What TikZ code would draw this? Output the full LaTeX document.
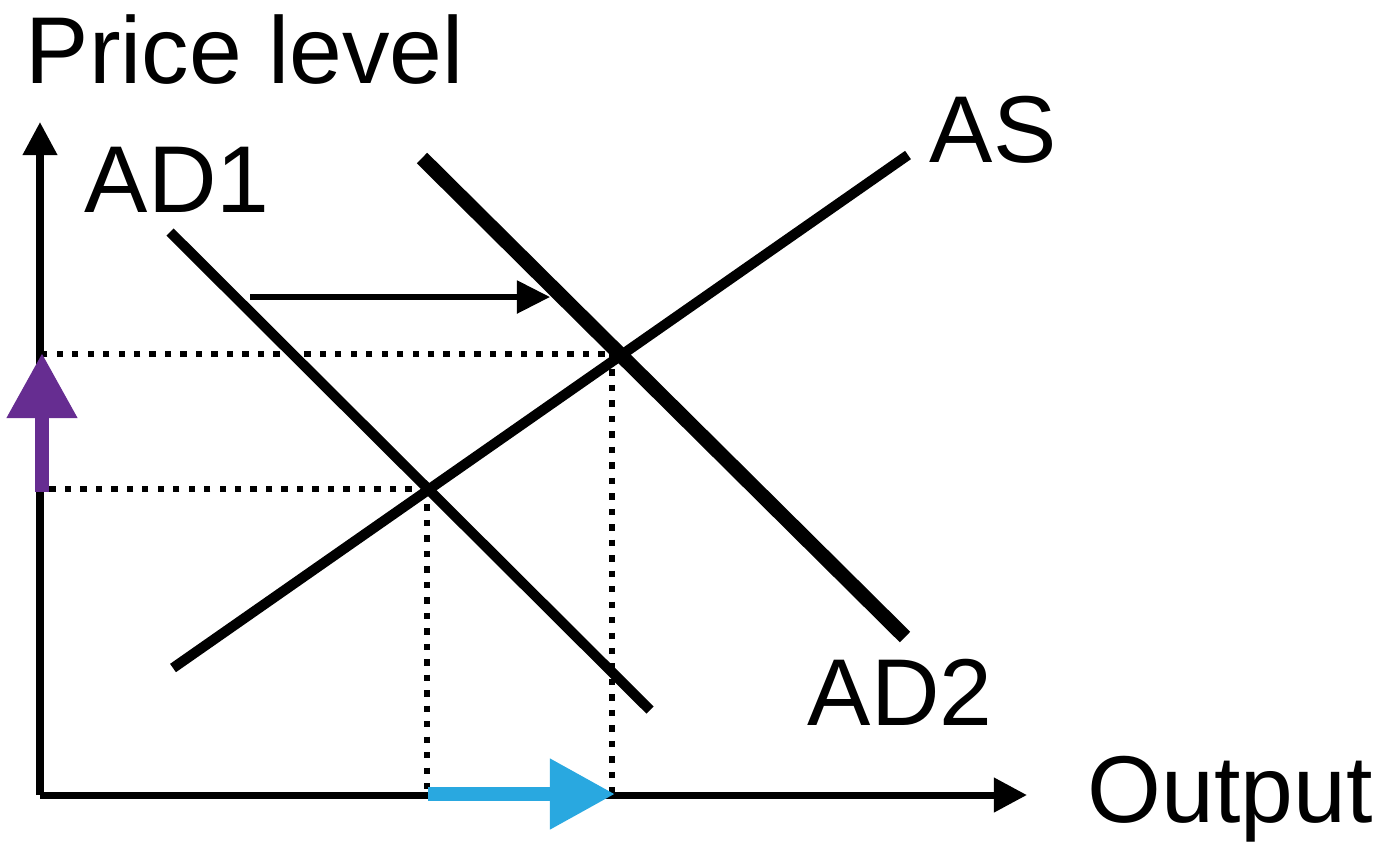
\documentclass[tikz,border=0pt]{standalone}
\usepackage{fontspec}
\setmainfont{Liberation Sans}
\usetikzlibrary{arrows.meta}

\definecolor{shiftpurple}{RGB}{102,45,145}
\definecolor{shiftblue}{RGB}{41,168,224}

\begin{document}
\begin{tikzpicture}[x=0.01cm,y=-0.01cm]
\tikzstyle{every node}+=[inner sep=0pt, anchor=base west, font=\fontsize{27}{32}\selectfont]
\tikzstyle{axis}=[black, line width=2pt, -{Triangle[length=0.33cm,width=0.33cm]}]
\tikzstyle{curve}=[black, line width=2.9pt]
\tikzstyle{guide}=[black, line width=1.8pt, dash pattern=on 1.8pt off 2.6pt]
\tikzstyle{movearrow}=[line width=4pt, -{Triangle[length=0.65cm,width=0.67cm]}]
\useasboundingbox (0,0) rectangle (1391,841);
% points
\coordinate (O) at (40,795);
\coordinate (ytop) at (40,122);
\coordinate (xend) at (1027,795);
\coordinate (E1) at (427,489);
\coordinate (E2) at (612,354);
% guides
\draw [guide] (E1) -- (E1 -| O);
\draw [guide] (E1) -- (E1 |- O);
\draw [guide] (620,354) -- (E2 -| O);
\draw [guide] (E2) -- (E2 |- O);
% axes
\draw [axis] (O) -- (ytop);
\draw [axis] (O) -- (xend);
% curves
\coordinate (ad1a) at (170,232);
\coordinate (ad1b) at (650,710);
\coordinate (ad2a) at (422,158);
\coordinate (ad2b) at (905,637);
\coordinate (asa) at (173,668);
\coordinate (asb) at (908,155);
\draw [curve] (ad1a) -- (ad1b);
\draw [curve, line width=4.2pt] (ad2a) -- (ad2b);
\draw [curve] (asa) -- (asb);
% shift of demand
\coordinate (sha) at (250,297);
\coordinate (shb) at (550,297);
\draw [black, line width=1.5pt, -{Triangle[length=0.33cm,width=0.32cm]}] (sha) -- (shb);
\draw [movearrow, shiftpurple] (42,492) -- (42,353);
\draw [movearrow, shiftblue] (428,794) -- (615,794);
% labels
\node (price) at (25,83) {Price level};
\node (lad1) at (84,212) {AD1};
\node (las) at (929,162) {AS};
\node (lad2) at (807,725) {AD2};
\node (output) at (1087,822) {Output};
\end{tikzpicture}
\end{document}
